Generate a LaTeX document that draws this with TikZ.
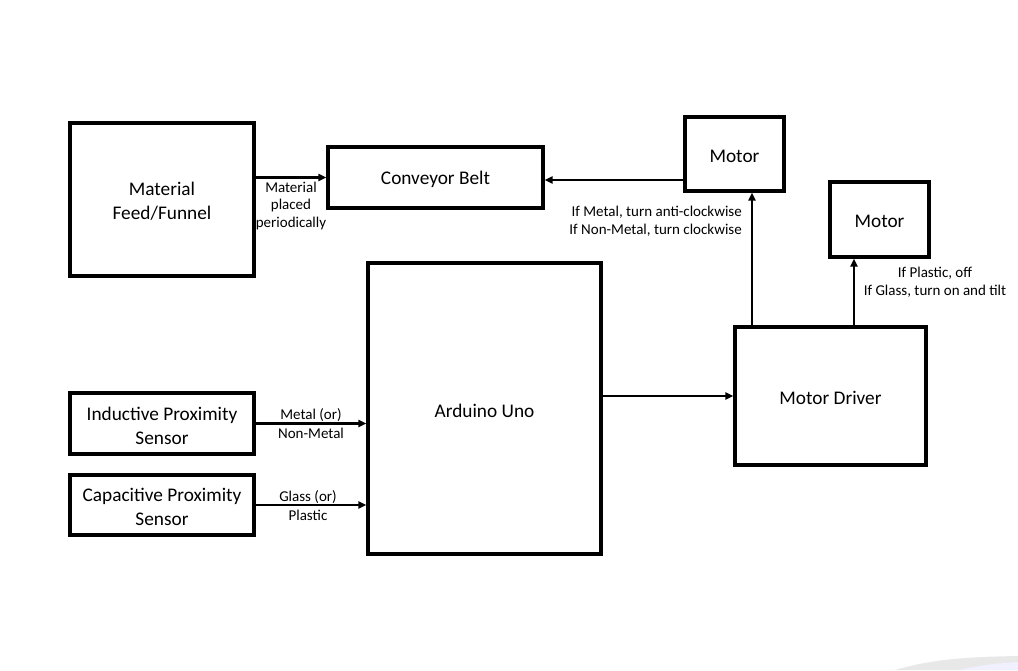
\documentclass[tikz,border=0pt]{standalone}
\usepackage{fontspec}
\setmainfont{Carlito}
\usetikzlibrary{arrows.meta}
\begin{document}
\begin{tikzpicture}[x=1pt,y=-1pt,
  box/.style={draw, line width=3.2pt, inner sep=0pt},
  btxt/.style={align=center, inner sep=0pt, yshift=-2pt, font=\fontsize{19.3}{24}\selectfont},
  lab/.style={font=\fontsize{15}{18}\selectfont, inner sep=0pt},
  arr/.style={-{Triangle[length=8pt,width=7pt]}, line width=2.3pt}]
\fill[white] (0,0) rectangle (1018,670);
\useasboundingbox (0,0) rectangle (1018,670);
\fill[black!9] (895,670) .. controls (930,660) and (960,657) .. (1018,656) -- (1018,670) -- cycle;
\fill[blue!6] (960,670) .. controls (980,665) and (1000,663) .. (1018,662) -- (1018,670) -- cycle;
% boxes
\node[box, minimum width=184pt, minimum height=153pt] (feed) at (162,199.5) {};
\node[box, minimum width=215pt, minimum height=61pt] (conv) at (435.5,177.5) {};
\node[box, minimum width=99pt, minimum height=74pt] (m1) at (734.5,154) {};
\node[box, minimum width=99pt, minimum height=75pt] (m2) at (879.5,219.5) {};
\node[box, minimum width=233pt, minimum height=291pt] (ard) at (484.5,408.5) {};
\node[box, minimum width=191pt, minimum height=138pt] (drv) at (830.5,396) {};
\node[box, minimum width=184pt, minimum height=61pt] (ind) at (162,423.5) {};
\node[box, minimum width=184pt, minimum height=60pt] (cap) at (162,505) {};
% box texts
\node[btxt] (tfeed) at (feed) {Material\\Feed/Funnel};
\node[btxt] (tconv) at (conv) {Conveyor Belt};
\node[btxt] (tm1) at (m1) {Motor};
\node[btxt] (tm2) at (m2) {Motor};
\node[btxt] (tard) at (ard) {Arduino Uno};
\node[btxt] (tdrv) at (drv) {Motor Driver};
\node[btxt] (tind) at (ind) {Inductive Proximity\\Sensor};
\node[btxt] (tcap) at (cap) {Capacitive Proximity\\Sensor};
% arrows
\draw[arr] (feed.east |- conv.west) -- (conv.west);
\draw[arr] (m1.west |- 0,180) -- (conv.east |- 0,180);
\draw[arr] (drv.north -| 752,0) -- (m1.south -| 752,0);
\draw[arr] (drv.north -| 854,0) -- (m2.south -| 854,0);
\draw[arr] (ard.east |- drv.west) -- (drv.west);
\draw[arr] (ind.east) -- (ard.west |- ind.east);
\draw[arr] (cap.east) -- (ard.west |- cap.east);
% labels
\node[lab] (l1) at (291,187) {Material};
\node[lab] (l2) at (291,205) {placed};
\node[lab] (l3) at (291,223) {periodically};
\node[lab, anchor=east] (l4) at (742,212) {If Metal, turn anti-clockwise};
\node[lab, anchor=east] (l5) at (742,230) {If Non-Metal, turn clockwise};
\node[lab] (l6) at (935,273) {If Plastic, off};
\node[lab] (l7) at (935,291) {If Glass, turn on and tilt};
\node[lab] (l8) at (311,415) {Metal (or)};
\node[lab] (l9) at (311,433) {Non-Metal};
\node[lab] (l10) at (308,497) {Glass (or)};
\node[lab] (l11) at (308,515) {Plastic};
\end{tikzpicture}
\end{document}
